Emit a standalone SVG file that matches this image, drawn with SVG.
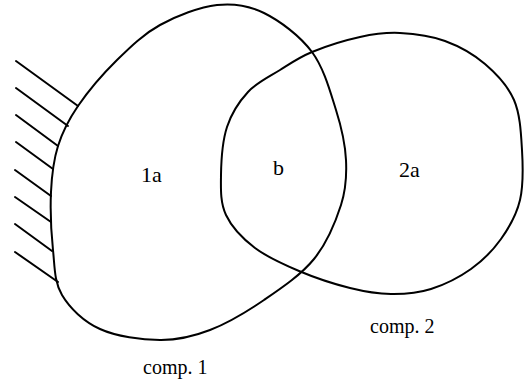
<svg xmlns="http://www.w3.org/2000/svg" width="529" height="384" viewBox="0 0 529 384">
<style>
.ln{fill:none;stroke:#000;stroke-width:2;stroke-linejoin:round;stroke-linecap:round}
.lb{font-family:"Liberation Serif","DejaVu Serif",serif;font-size:22px;fill:#000}
.cp{font-family:"Liberation Serif","DejaVu Serif",serif;font-size:20px;fill:#000}
</style>
<rect width="529" height="384" fill="#fff"/>
<g id="comp1">
<path class="ln" d="M217,5 C234.3,3 248.2,5.2 264,13 C279.8,20.8 300,35.8 312,52 C324,68.2 330.3,92 336,110 C341.7,128 345.2,144.2 346,160 C346.8,175.8 346.3,188.5 341,205 C335.7,221.5 326.8,243.2 314,259 C301.2,274.8 281.3,288.2 264,300 C246.7,311.8 227.3,323.3 210,330 C192.7,336.7 178.3,340.2 160,340 C141.7,339.8 116.3,336.5 100,329 C83.7,321.5 69.8,308.2 62,295 C54.2,281.8 54.8,267.2 53,250 C51.2,232.8 50.2,209.3 51,192 C51.8,174.7 53.5,160.3 58,146 C62.5,131.7 68.2,120.3 78,106 C87.8,91.7 103.3,73.5 117,60 C130.7,46.5 143.3,34.2 160,25 C176.7,15.8 199.7,7 217,5 Z"/>
<text class="cp" x="143" y="374">comp. 1</text>
</g>
<g id="comp2">
<path class="ln" d="M312,52 C325.3,46.5 345.3,40.2 360,37 C374.7,33.8 385.8,32.3 400,33 C414.2,33.7 430.8,35.8 445,41 C459.2,46.2 473.5,54.2 485,64 C496.5,73.8 507.8,85.7 514,100 C520.2,114.3 521,133.3 522,150 C523,166.7 523.5,185.2 520,200 C516.5,214.8 509.2,227.5 501,239 C492.8,250.5 482.7,260.7 471,269 C459.3,277.3 444.3,284.8 431,289 C417.7,293.2 404.5,294.2 391,294 C377.5,293.8 365.3,291.8 350,288 C334.7,284.2 314.8,277.7 299,271 C283.2,264.3 267.2,257.3 255,248 C242.8,238.7 231.7,227.2 226,215 C220.3,202.8 220.8,189.7 221,175 C221.2,160.3 222.5,140.8 227,127 C231.5,113.2 239.2,101.5 248,92 C256.8,82.5 269.3,76.7 280,70 C290.7,63.3 298.7,57.5 312,52 Z"/>
<text class="cp" x="370" y="333">comp. 2</text>
</g>
<g id="fixed-support">
<line class="ln" x1="16" y1="61" x2="78" y2="106"/>
<line class="ln" x1="16" y1="88" x2="68" y2="126"/>
<line class="ln" x1="16" y1="115" x2="58" y2="146"/>
<line class="ln" x1="16" y1="142" x2="53" y2="169"/>
<line class="ln" x1="15" y1="170" x2="51" y2="196"/>
<line class="ln" x1="15" y1="197" x2="51" y2="222"/>
<line class="ln" x1="15" y1="224" x2="52" y2="251"/>
<line class="ln" x1="15" y1="252" x2="58" y2="282"/>
</g>
<g id="labels">
<text class="lb" x="141" y="182">1a</text>
<text class="lb" x="273" y="175">b</text>
<text class="lb" x="399" y="177">2a</text>
</g>
</svg>
